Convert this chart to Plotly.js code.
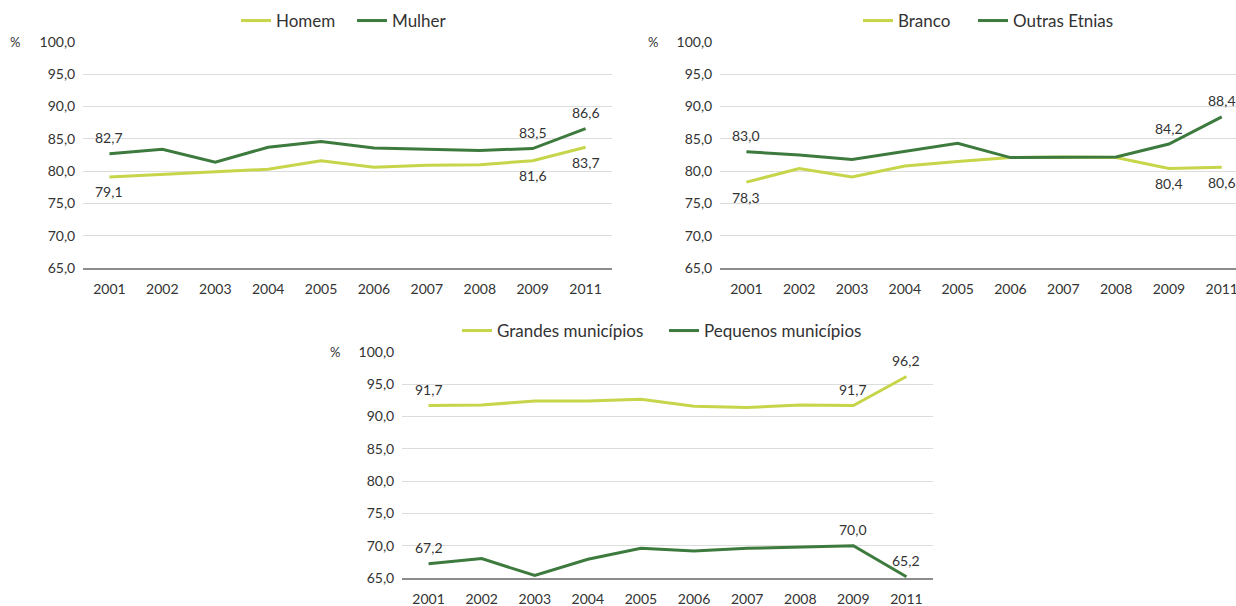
<!DOCTYPE html>
<html>
<head>
<meta charset="utf-8">
<script src="https://cdn.plot.ly/plotly-3.0.1.min.js"></script>
<style>html,body{margin:0;padding:0;background:#fff;}#chart{width:1236px;height:606px;}</style>
</head>
<body>
<div id="chart"></div>
<script>
// ---- data ----
const years = ['2001','2002','2003','2004','2005','2006','2007','2008','2009','2011'];

const homem  = [79.1, 79.5, 79.9, 80.3, 81.6, 80.6, 80.9, 81.0, 81.6, 83.7];
const mulher = [82.7, 83.4, 81.4, 83.7, 84.6, 83.6, 83.4, 83.2, 83.5, 86.6];

const branco = [78.3, 80.4, 79.1, 80.8, 81.5, 82.1, 82.2, 82.1, 80.4, 80.6];
const outras = [83.0, 82.5, 81.8, 83.0, 84.3, 82.1, 82.2, 82.2, 84.2, 88.4];

const grandes  = [91.7, 91.8, 92.4, 92.4, 92.7, 91.6, 91.4, 91.8, 91.7, 96.2];
const pequenos = [67.2, 68.0, 65.4, 67.9, 69.6, 69.2, 69.6, 69.8, 70.0, 65.2];

const labelIdx = [0, 8, 9];
const yTicks = [65, 70, 75, 80, 85, 90, 95, 100];

// ---- styles ----
const LIGHT = '#c6d54a';
const DARK = '#3d7a3e';
const FONT = 'Lato, "Open Sans", sans-serif';
const TXT = '#333333';

function line(name, y, color, xa, ya, legend) {
  return {x: years, y: y, name: name, type: 'scatter', mode: 'lines',
    line: {color: color, width: 3}, xaxis: xa, yaxis: ya, legend: legend,
    hoverinfo: 'skip'};
}
const data = [
  line('Homem', homem, LIGHT, 'x', 'y', 'legend'),
  line('Mulher', mulher, DARK, 'x', 'y', 'legend2'),
  line('Branco', branco, LIGHT, 'x2', 'y2', 'legend3'),
  line('Outras Etnias', outras, DARK, 'x2', 'y2', 'legend4'),
  line('Grandes municípios', grandes, LIGHT, 'x3', 'y3', 'legend5'),
  line('Pequenos municípios', pequenos, DARK, 'x3', 'y3', 'legend6')
];

const annotations = [];
function labels(series, xa, ya, shift) {
  labelIdx.forEach(i => {
    annotations.push({x: i, y: series[i], xref: xa, yref: ya,
      text: series[i].toFixed(1).replace('.', ','), showarrow: false,
      yshift: shift, font: {family: FONT, size: 14, color: TXT}});
  });
}
labels(homem, 'x', 'y', -15);
labels(mulher, 'x', 'y', 16);
labels(branco, 'x2', 'y2', -15);
labels(outras, 'x2', 'y2', 16);
labels(grandes, 'x3', 'y3', 16);
labels(pequenos, 'x3', 'y3', 16);

[[15, 42], [653, 42], [335, 352]].forEach(p => {
  annotations.push({x: p[0] / 1236, y: 1 - p[1] / 606, xref: 'paper', yref: 'paper',
    text: '%', showarrow: false, xanchor: 'center', yanchor: 'middle',
    font: {family: FONT, size: 13, color: TXT}});
});

function xaxis(domain, range, anchor) {
  return {domain: domain, type: 'category', range: range, anchor: anchor,
    showgrid: false, showline: true, linecolor: '#8c8c8c', linewidth: 2,
    ticks: 'outside', ticklen: 7, tickcolor: 'rgba(0,0,0,0)',
    tickfont: {family: FONT, size: 14, color: TXT}, fixedrange: true};
}
function yaxis(domain, anchor) {
  return {domain: domain, range: [65, 100], anchor: anchor, tickvals: yTicks,
    tickformat: '.1f', showgrid: true, gridcolor: '#dcdcdc', gridwidth: 1,
    zeroline: false, showline: false, ticks: 'outside', ticklen: 4,
    tickcolor: 'rgba(0,0,0,0)',
    tickfont: {family: FONT, size: 14, color: TXT}, fixedrange: true};
}
function legend(px, py) {
  return {orientation: 'h', x: px / 1236, y: 1 - py / 606, xanchor: 'left', yanchor: 'middle',
    bgcolor: 'rgba(0,0,0,0)', borderwidth: 0,
    font: {family: FONT, size: 17, color: TXT}, itemclick: false, itemdoubleclick: false};
}

const layout = {
  width: 1236, height: 606, margin: {l: 0, r: 0, t: 0, b: 0},
  paper_bgcolor: '#ffffff', plot_bgcolor: '#ffffff', separators: ',.',
  showlegend: true,
  xaxis: xaxis([83 / 1236, 612 / 1236], [-0.5, 9.5], 'y'),
  yaxis: yaxis([1 - 268 / 606, 1 - 42 / 606], 'x'),
  xaxis2: xaxis([720 / 1236, 1], [-0.5, 9.27], 'y2'),
  yaxis2: yaxis([1 - 268 / 606, 1 - 42 / 606], 'x2'),
  xaxis3: xaxis([402 / 1236, 933 / 1236], [-0.5, 9.5], 'y3'),
  yaxis3: yaxis([1 - 578 / 606, 1 - 352 / 606], 'x3'),
  legend: legend(236, 21),
  legend2: legend(352, 21),
  legend3: legend(858, 21),
  legend4: legend(973, 21),
  legend5: legend(457, 331),
  legend6: legend(664, 331),
  annotations: annotations
};

Plotly.newPlot('chart', data, layout, {displayModeBar: false, staticPlot: true});
</script>
</body>
</html>
